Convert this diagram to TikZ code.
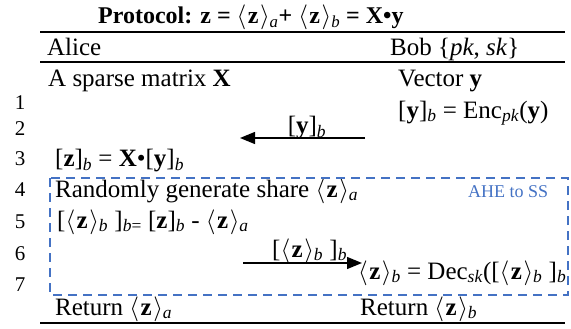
\documentclass[tikz,border=0pt]{standalone}
\usepackage{fontspec}
\setmainfont{Liberation Serif}
\usetikzlibrary{arrows.meta}
\definecolor{ahe}{HTML}{4472C4}
\newcommand{\sbi}[1]{\textsubscript{\mdseries\textit{#1}}}
\newcommand{\zvec}{$\langle$\kern1.5pt\textbf{z}\kern1.5pt$\rangle$}
\begin{document}
\begin{tikzpicture}[x=1pt,y=-1pt,
  txt/.style={anchor=base west,inner sep=0pt,font=\fontsize{25}{29}\selectfont},
  ttl/.style={anchor=base west,inner sep=0pt,font=\bfseries\fontsize{24}{28}\selectfont},
  num/.style={anchor=center,inner sep=0pt,font=\fontsize{21}{25}\selectfont},
  rule/.style={line width=1.2pt},
  msg/.style={line width=1.3pt,-{Triangle[length=15pt,width=12pt]}},
  lbl/.style={anchor=base,inner sep=0pt,font=\fontsize{25}{29}\selectfont},
  box/.style={draw=ahe,line width=2.4pt,dash pattern=on 9pt off 6pt}]
\useasboundingbox (0,0) rectangle (571,329);
% title
\node[ttl] (title) at (98,24) {Protocol: z = \zvec\sbi{a}+ \zvec\sbi{b} = X•y};
% rules
\draw[rule] (40,32) -- (565,32);
\draw[rule] (40,62) -- (565,62);
\draw[rule] (40,323) -- (565,323);
% header
\node[txt] (alice) at (47,56) {Alice};
\node[txt] (bob) at (390,56) {Bob \{\textit{pk}, \textit{sk}\}};
% rows
\node[txt] (xmat) at (48,87) {A sparse matrix \textbf{X}};
\node[txt] (yvec) at (398,87) {Vector \textbf{y}};
\node[txt] (enc) at (398,118) {[\textbf{y}]\sbi{b} = Enc\sbi{pk}(\textbf{y})};
\node[txt] (zb) at (55,167) {[\textbf{z}]\sbi{b} = \textbf{X}•[\textbf{y}]\sbi{b}};
\node[txt] (rand) at (55,197) {Randomly generate share \zvec\sbi{a}};
\node[txt] (share) at (57,228) {[\zvec\sbi{b} ]\textsubscript{\textit{b}=} [\textbf{z}]\sbi{b} - \zvec\sbi{a}};
\node[txt] (dec) at (358,279) {\zvec\sbi{b} = Dec\sbi{sk}([\zvec\sbi{b} ]\sbi{b}};
\node[txt] (reta) at (55,315) {Return \zvec\sbi{a}};
\node[txt] (retb) at (360,315) {Return \zvec\sbi{b}};
% line numbers
\node[num] (n1) at (20,103) {1};
\node[num] (n2) at (20,129) {2};
\node[num] (n3) at (20,159) {3};
\node[num] (n4) at (20,190) {4};
\node[num] (n5) at (20,222) {5};
\node[num] (n6) at (20,254) {6};
\node[num] (n7) at (20,285) {7};
% messages
\coordinate (m1s) at (365,138);
\coordinate (m1e) at (240,138);
\draw[msg] (m1s) -- (m1e);
\node[lbl] (m1l) at (307,134) {[\textbf{y}]\sbi{b}};
\coordinate (m2s) at (243,263);
\coordinate (m2e) at (362,263);
\draw[msg] (m2s) -- (m2e);
\node[txt] (m2l) at (272,257) {[\zvec\sbi{b} ]\sbi{b}};
% AHE to SS box
\draw[box] (50,178) rectangle (568,295);
\node[anchor=base west,inner sep=0pt,text=ahe,font=\fontsize{18}{22}\selectfont] (ahe) at (468,197) {AHE to SS};
\end{tikzpicture}
\end{document}
